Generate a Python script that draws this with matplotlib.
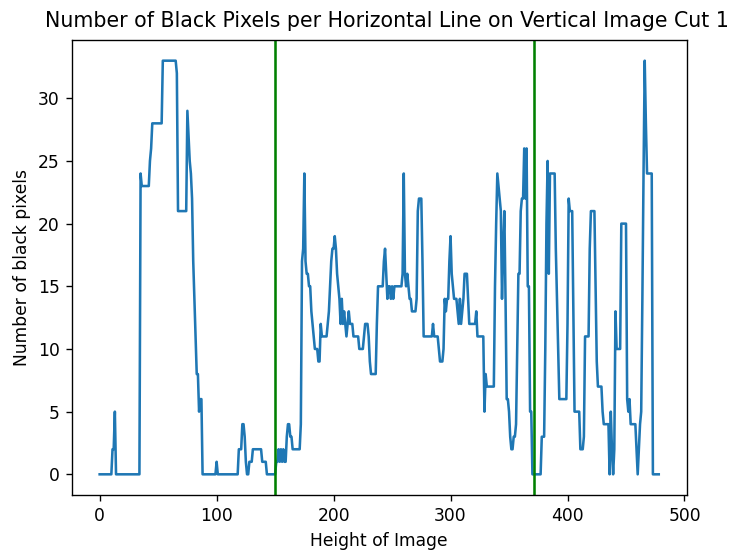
import numpy as np
import matplotlib
matplotlib.use("Agg")
import matplotlib.pyplot as plt

# Black pixel counts per horizontal line (index = image height position)
seg_000_099 = ([0]*11 + [2, 2, 5] + [0]*21 + [24] + [23]*7 + [25, 26] + [28]*9 +
               [33]*12 + [32] + [21]*8 +
               [29, 27, 25, 24, 22, 17, 14, 11, 8, 8, 5, 6, 6] + [0]*12)
seg_100_199 = ([1] + [0]*18 + [2, 2, 2, 4, 4, 3, 1, 0, 0] + [1]*3 + [2]*8 + [1]*4 +
               [0]*8 + [1, 1, 2, 1, 2, 1, 2, 1, 1, 3, 4, 4, 3, 3] + [2]*7 +
               [4, 17, 18, 24, 17, 16, 16, 15, 15, 13, 12, 11] + [10]*3 + [9, 9, 12] +
               [11]*5 + [12, 13, 15, 17, 18])
seg_200_299 = ([18, 19, 18, 16, 15, 14, 12, 14, 12, 13, 12, 11, 12, 13] + [12]*3 +
               [11]*5 + [10]*4 + [11] + [12]*3 + [11, 9] + [8]*5 + [12] + [15]*5 +
               [17, 18, 16, 14, 15, 15, 14, 15, 14] + [15]*7 +
               [16, 24, 16, 15, 16, 15, 14, 14] + [13]*4 + [14, 21] + [22]*3 + [17] +
               [11]*8 + [12] + [11]*4 + [10] + [9]*3 + [10, 14, 13, 14, 14, 17])
seg_300_399 = ([19, 16, 15] + [14]*3 + [13, 12, 14, 12, 13, 14] + [16]*3 + [14] +
               [12]*6 + [13] + [11]*6 + [5, 8] + [7]*7 +
               [15, 20, 24, 23, 22, 21, 14, 18, 21, 14, 6, 6, 5, 3, 2, 2, 3, 3, 4, 10,
                16, 16, 21, 22, 22, 26, 22, 26, 15, 15, 5, 5] +
               [0]*8 + [3]*3 + [10, 20, 25, 16] + [24]*5 + [18, 14, 10] + [6]*7)
seg_400_478 = ([12, 22, 21, 21, 21, 13] + [5]*5 + [2]*3 + [3] + [11]*4 + [18] +
               [21]*4 + [15, 9] + [7]*4 + [5] + [4]*5 + [0, 5, 2, 0, 2, 13] +
               [10]*4 + [20]*5 + [6, 5, 6] + [4]*5 + [2, 0, 2, 4, 5, 14, 24, 33, 28] +
               [24]*5 + [0]*6)

black_pixels = seg_000_099 + seg_100_199 + seg_200_299 + seg_300_399 + seg_400_478
heights = list(range(len(black_pixels)))

cut_positions = [150, 371]

title = "Number of Black Pixels per Horizontal Line on Vertical Image Cut 1"
xlabel = "Height of Image"
ylabel = "Number of black pixels"

DPI = 123
fig = plt.figure(figsize=(734 / DPI, 555 / DPI), dpi=DPI)
ax = fig.add_axes([71.7 / 734, 60 / 555, (686.7 - 71.7) / 734, (495 - 40) / 555])

ax.plot(heights, black_pixels, color="#1f77b4")
for c in cut_positions:
    ax.axvline(c, color="green")

ax.set_title(title, x=0.512, pad=7.5)
ax.set_xlabel(xlabel)
ax.set_ylabel(ylabel)
ax.set_xticks([0, 100, 200, 300, 400, 500])
ax.set_yticks([0, 5, 10, 15, 20, 25, 30])

fig.savefig("out.png", dpi=DPI)
